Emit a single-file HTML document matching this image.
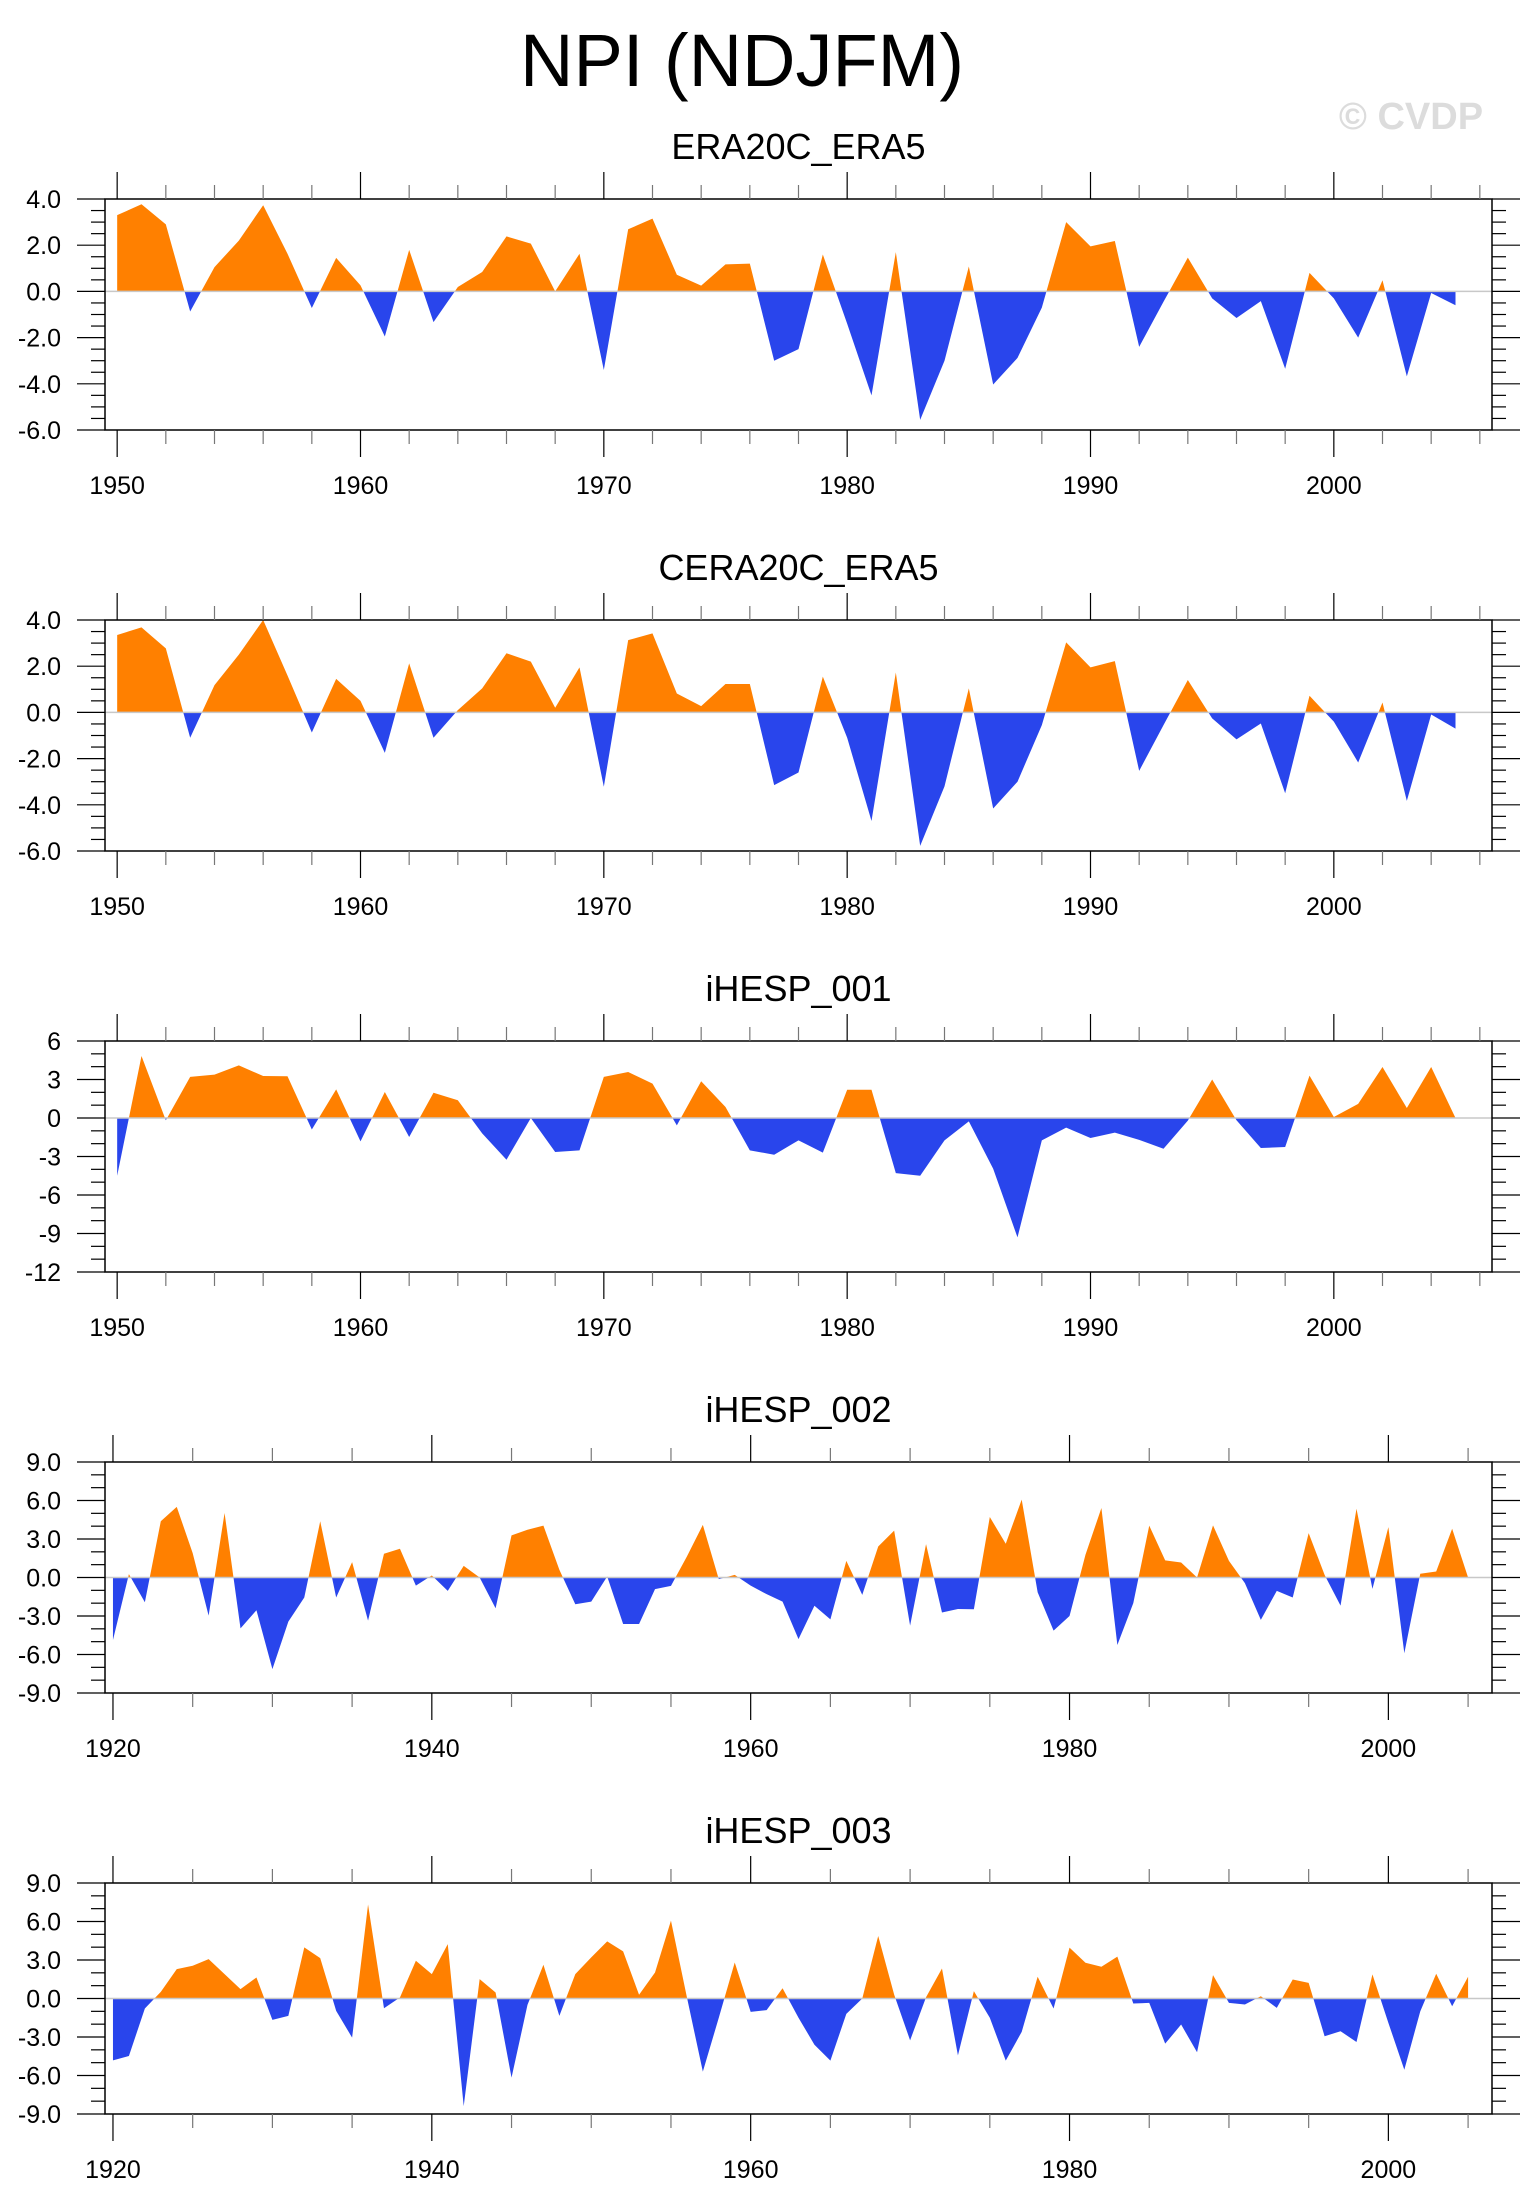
<!DOCTYPE html>
<html><head><meta charset="utf-8"><title>NPI (NDJFM)</title>
<style>
html,body{margin:0;padding:0;background:#fff;}
svg{display:block;font-family:"Liberation Sans",Arial,sans-serif;}
</style></head>
<body>
<svg id="chart" xmlns="http://www.w3.org/2000/svg" width="1533" height="2211" viewBox="0 0 1533 2211">
<text x="742" y="86" font-size="74" text-anchor="middle" fill="#000">NPI (NDJFM)</text>
<text x="1411" y="129" font-size="38" font-weight="bold" text-anchor="middle" fill="#dcdcdc">© CVDP</text>
</svg>
<script>
const titles = ["ERA20C_ERA5","CERA20C_ERA5","iHESP_001","iHESP_002","iHESP_003"];
const startYears = [1950,1950,1950,1920,1920];
const era20c = [3.3,3.77,2.9,-0.87,1.05,2.2,3.73,1.63,-0.72,1.45,0.26,-1.95,1.8,-1.33,0.19,0.84,2.38,2.07,0,1.63,-3.4,2.69,3.15,0.72,0.25,1.17,1.2,-3.0,-2.5,1.6,-1.4,-4.5,1.7,-5.56,-3.0,1.08,-4.03,-2.88,-0.7,3.0,1.95,2.18,-2.4,-0.45,1.46,-0.3,-1.15,-0.42,-3.35,0.8,-0.3,-2.0,0.48,-3.68,-0.07,-0.6];
const cera20c = [3.35,3.68,2.77,-1.1,1.18,2.5,4.0,1.6,-0.87,1.45,0.5,-1.75,2.12,-1.1,0.1,1.04,2.56,2.2,0.2,1.95,-3.22,3.13,3.42,0.82,0.27,1.23,1.23,-3.15,-2.6,1.55,-1.1,-4.7,1.73,-5.78,-3.2,1.04,-4.16,-3.0,-0.55,3.03,1.95,2.22,-2.53,-0.55,1.4,-0.26,-1.17,-0.48,-3.5,0.72,-0.4,-2.17,0.43,-3.83,-0.09,-0.7];
const ihesp001 = [-4.5,4.83,-0.18,3.2,3.38,4.1,3.27,3.25,-0.9,2.23,-1.82,2.03,-1.48,1.97,1.38,-1.2,-3.25,0,-2.65,-2.52,3.2,3.58,2.68,-0.57,2.86,0.86,-2.52,-2.86,-1.74,-2.7,2.2,2.2,-4.3,-4.5,-1.74,-0.26,-3.95,-9.3,-1.74,-0.75,-1.56,-1.14,-1.7,-2.4,-0.2,3.0,-0.18,-2.34,-2.26,3.3,0.08,1.1,3.97,0.78,3.97,0];
const ihesp002 = [-4.87,0.26,-1.93,4.38,5.5,1.9,-2.97,5.03,-3.96,-2.55,-7.14,-3.44,-1.56,4.38,-1.56,1.2,-3.36,1.85,2.24,-0.63,0.16,-1.04,0.91,0,-2.4,3.28,3.72,4.04,0.6,-2.08,-1.88,0.08,-3.62,-3.62,-0.91,-0.65,1.64,4.1,-0.13,0.2,-0.63,-1.3,-1.88,-4.8,-2.2,-3.26,1.3,-1.35,2.42,3.65,-3.75,2.6,-2.73,-2.45,-2.47,4.71,2.63,6.07,-1.15,-4.14,-3.0,1.77,5.42,-5.26,-2.0,4.04,1.33,1.17,0,4.06,1.3,-0.44,-3.3,-1.04,-1.56,3.46,0.2,-2.19,5.36,-0.89,3.93,-5.9,0.29,0.47,3.8,0];
const ihesp003 = [-4.82,-4.48,-0.78,0.52,2.29,2.55,3.07,1.9,0.73,1.64,-1.67,-1.35,3.98,3.15,-0.96,-3.05,7.32,-0.76,0.08,2.94,1.9,4.24,-8.39,1.51,0.47,-6.17,-0.5,2.63,-1.35,1.9,3.2,4.45,3.67,0.29,2.03,6.07,0.1,-5.7,-1.5,2.81,-1.04,-0.91,0.8,-1.5,-3.6,-4.84,-1.2,0,4.87,0.3,-3.26,0.1,2.34,-4.43,0.57,-1.5,-4.84,-2.6,1.69,-0.78,3.96,2.79,2.47,3.26,-0.39,-0.34,-3.52,-2.03,-4.19,1.82,-0.34,-0.47,0.18,-0.73,1.48,1.22,-2.94,-2.55,-3.39,1.88,-1.9,-5.55,-1.0,1.93,-0.6,1.69];
const ticksA = ["4.0","2.0","0.0","-2.0","-4.0","-6.0"];
const ticksB = ["6","3","0","-3","-6","-9","-12"];
const ticksC = ["9.0","6.0","3.0","0.0","-3.0","-6.0","-9.0"];

const series = [era20c, cera20c, ihesp001, ihesp002, ihesp003];
const tickSets = [ticksA, ticksA, ticksB, ticksC, ticksC];
const yMinorStep = [0.5,0.5,1,1,1];
const xMinorStep = [2,2,2,5,5];
const xMajorStep = [10,10,10,20,20];

const NS = "http://www.w3.org/2000/svg";
const svg = document.getElementById('chart');
function mk(tag, attrs, parent){
  const e = document.createElementNS(NS, tag);
  for (const k in attrs) e.setAttribute(k, attrs[k]);
  (parent||svg).appendChild(e);
  return e;
}
const L = 105, R = 1492, H = 231;
const tops = [199, 620, 1041, 1462, 1883];

for (let p = 0; p < 5; p++) {
  const top = tops[p], bot = top + H;
  const data = series[p];
  const ticks = tickSets[p];
  const yMax = parseFloat(ticks[0]), yMin = parseFloat(ticks[ticks.length-1]);
  const y0 = startYears[p];
  const xStart = y0 - 0.5, xEnd = y0 + data.length + 0.5;
  const xs = yr => L + (yr - xStart) / (xEnd - xStart) * (R - L);
  const ys = v => top + (yMax - v) / (yMax - yMin) * H;

  const g = mk('g', {});
  
  

  const t = mk('text', {x: (L+R)/2, y: top - 40, 'font-size': 36, 'text-anchor': 'middle', fill: '#000'}, g);
  
  
  t.textContent = titles[p];

  const zy = ys(0);
  const cpA = mk('clipPath', {id: 'pos' + p}, g);
  mk('rect', {x: L, y: top, width: R - L, height: zy - top}, cpA);
  const cpB = mk('clipPath', {id: 'neg' + p}, g);
  mk('rect', {x: L, y: zy, width: R - L, height: bot - zy}, cpB);

  let d = 'M' + xs(y0) + ',' + zy;
  data.forEach((v, i) => { d += ' L' + xs(y0 + i).toFixed(2) + ',' + ys(v).toFixed(2); });
  d += ' L' + xs(y0 + data.length - 1) + ',' + zy + ' Z';
  const pa = mk('path', {d: d, fill: '#ff8000', 'clip-path': 'url(#pos' + p + ')'}, g);
  
  
  const na = mk('path', {d: d, fill: '#2945ec', 'clip-path': 'url(#neg' + p + ')'}, g);
  
  

  const zl = mk('line', {x1: L, x2: R, y1: zy, y2: zy, stroke: '#c8c8c8', 'stroke-width': 1.5}, g);
  
  

  const fr = mk('rect', {x: L, y: top, width: R - L, height: H, fill: 'none', stroke: '#000', 'stroke-width': 1.5}, g);
  
  

  const majStep = (yMax - yMin) / (ticks.length - 1);
  for (let v = yMin; v <= yMax + 1e-6; v += yMinorStep[p]) {
    const isMaj = Math.abs(((v - yMin) / majStep) - Math.round((v - yMin) / majStep)) < 1e-6;
    const len = isMaj ? 28 : 14;
    const yy = ys(v);
    mk('line', {x1: L - len, x2: L, y1: yy, y2: yy, stroke: '#000', 'stroke-width': 1.2}, g);
    mk('line', {x1: R, x2: R + len, y1: yy, y2: yy, stroke: '#000', 'stroke-width': 1.2}, g);
  }
  ticks.forEach(lbl => {
    const tl = mk('text', {x: 61, y: ys(parseFloat(lbl)) + 9, 'font-size': 25, 'text-anchor': 'end', fill: '#000'}, g);
    
    
    tl.textContent = lbl;
  });

  const firstTick = Math.ceil(xStart / xMinorStep[p]) * xMinorStep[p];
  for (let yr = firstTick; yr <= xEnd; yr += xMinorStep[p]) {
    const isMaj = yr % xMajorStep[p] === 0;
    const len = isMaj ? 27 : 14;
    const xx = xs(yr);
    mk('line', {x1: xx, x2: xx, y1: top - len, y2: top, stroke: isMaj ? '#000' : '#777', 'stroke-width': 1.2}, g);
    mk('line', {x1: xx, x2: xx, y1: bot, y2: bot + len, stroke: isMaj ? '#000' : '#777', 'stroke-width': 1.2}, g);
    if (isMaj) {
      const xl = mk('text', {x: xx, y: bot + 64, 'font-size': 25, 'text-anchor': 'middle', fill: '#000'}, g);
      
      
      xl.textContent = yr;
    }
  }
}
</script>
</body></html>
